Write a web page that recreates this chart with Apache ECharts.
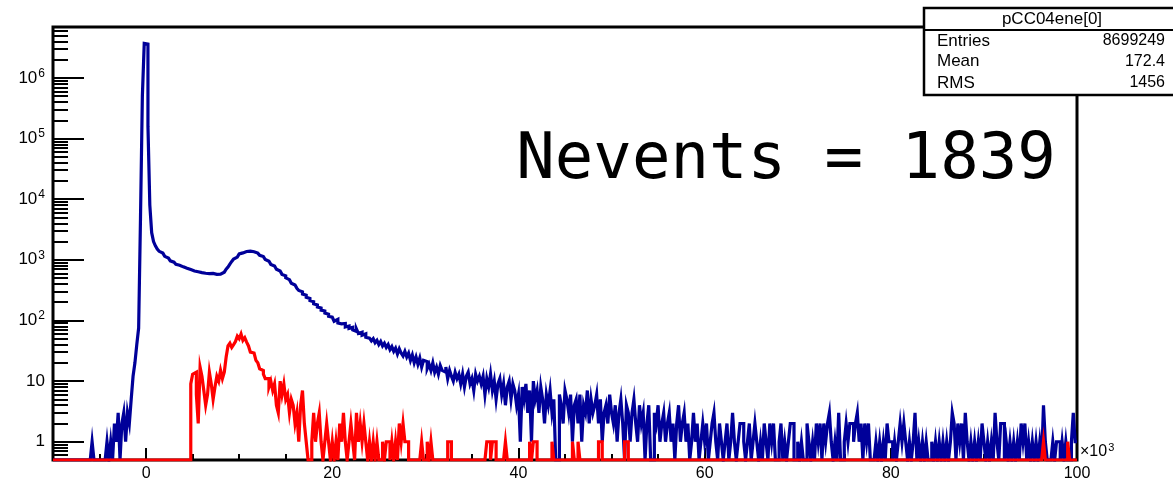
<!DOCTYPE html>
<html><head><meta charset="utf-8">
<script src="https://cdn.jsdelivr.net/npm/echarts@6/dist/echarts.min.js"></script>
<style>html,body{margin:0;padding:0;background:#fff}#c{width:1173px;height:483px}</style>
</head><body><div id="c"></div>
<script>
// Histogram binning (x in units of 10^3)
const binStart = -10;
const binWidth = 0.2;

// pCC04ene[0] – all entries (blue), 550 bins
const blueCounts = [
0,0,0,0,0,0,0,0,0,0,
0,0,0,0,0,0,0,0,0,0,
0,1,0,0,0,0,0,0,0,1,
0,1,0,2,1,3,0,2,3,1,
3,2,5,12,20,40,75,5000,500000,3700000,
3600000,160000,8000,2800,2000,1700,1500,1380,1290,1210,
1140,1070,1020,960,915,880,845,815,790,765,
740,725,700,690,665,655,640,635,620,615,
610,600,605,590,585,595,580,575,590,580,
600,625,650,700,760,850,940,1030,1110,1190,
1250,1300,1345,1370,1390,1385,1380,1360,1335,1290,
1240,1185,1130,1065,1010,950,895,840,790,745,
700,655,620,575,545,505,470,445,410,385,
360,338,312,296,272,260,240,230,212,203,
188,180,166,160,148,143,132,127,117,113,
106,97,104,91,88,84,89,78,81,74,
77,70,66,72,61,64,57,60,53,51,
54,46,50,43,47,40,45,38,42,36,
40,33,37,31,35,28,34,29,26,31,
25,29,22,27,20,25,19,24,17,22,
21,16,19,15,20,14,17,13,18,15,
14,17,11,15,12,10,14,11,13,9,
13,8,12,14,9,11,7,13,10,12,
9,12,6,11,8,13,7,10,5,9,
11,6,9,4,8,10,5,9,7,4,
6,1,8,5,9,3,7,1,10,5,
7,3,8,5,2,6,4,7,3,5,
0,0,6,4,2,7,5,3,6,1,
4,5,2,6,1,4,3,7,2,5,
3,4,6,2,5,1,3,4,2,6,
3,2,4,1,3,5,2,0,4,3,
1,3,5,2,1,4,2,3,0,2,
4,0,0,3,2,4,1,2,3,1,
2,3,1,2,0,2,4,1,2,3,
1,2,0,1,3,1,2,0,1,2,
1,2,0,1,2,3,1,0,2,1,
0,1,2,0,1,3,1,0,1,2,
2,1,0,1,2,0,1,2,1,0,
1,0,2,1,0,2,1,2,0,0,
1,2,0,1,0,1,2,2,0,0,
1,0,1,0,0,2,1,0,1,0,
2,1,2,0,2,1,2,3,1,0,
1,0,3,0,0,1,2,1,2,2,
1,2,3,1,2,0,2,1,2,0,
0,0,1,0,1,0,1,0,2,1,
1,0,1,0,1,2,1,2,1,0,
1,0,1,3,0,1,0,1,0,1,
0,0,1,0,1,0,1,0,1,0,
1,0,1,3,2,0,2,1,2,0,
3,1,0,1,0,1,0,1,0,2,
1,0,1,0,1,0,3,1,0,2,
2,0,1,0,1,0,1,0,1,0,
2,1,2,0,1,0,1,0,1,0,
1,0,4,1,0,0,0,1,0,1,
1,0,1,0,1,0,0,1,3,1
];

// Selected events (red), 550 bins
const redCounts = [
0,0,0,0,0,0,0,0,0,0,
0,0,0,0,0,0,0,0,0,0,
0,0,0,0,0,0,0,0,0,0,
0,0,0,0,0,0,0,0,0,0,
0,0,0,0,0,0,0,0,0,0,
0,0,0,0,0,0,0,0,0,0,
0,0,0,0,0,0,0,0,0,0,
0,0,0,0,9,13,14,6,2,17,
12,7,4,6,14,9,5,8,12,10,
15,11,14,25,38,42,36,40,45,55,
50,60,47,52,44,38,30,29,27,22,
20,16,15,13,11,11,8,10,7,9,
4,3,10,6,9,5,6,3,5,4,
2,3,1,4,7,2,1,0,0,1,
3,1,2,3,1,0,1,2,1,0,
1,0,1,0,2,1,3,1,0,1,
2,1,0,3,1,2,1,2,1,0,
1,0,1,0,1,0,0,1,0,1,
1,0,1,0,1,0,2,1,2,1,
1,0,0,0,0,0,0,0,1,0,
0,1,0,1,0,0,0,0,0,0,
0,0,1,1,0,0,0,0,0,0,
0,0,0,0,0,0,0,0,0,0,
0,0,0,1,1,0,1,1,0,0,
0,0,0,1,0,0,0,0,0,0,
0,0,0,0,0,0,1,0,1,1,
0,0,0,0,0,0,0,0,1,0,
0,0,0,0,0,0,0,0,0,1,
0,0,1,0,0,0,0,0,0,0,
0,0,0,1,1,0,0,0,0,0,
0,0,0,0,0,0,0,1,1,0,
0,0,0,0,0,0,0,0,0,0,
0,0,0,0,0,0,0,0,0,0,
0,0,0,0,0,0,0,0,0,0,
0,0,0,0,0,0,0,0,0,0,
0,0,0,0,0,0,0,0,0,0,
0,0,0,0,0,0,0,0,0,0,
0,0,0,0,0,0,0,0,0,0,
0,0,0,0,0,0,0,0,0,0,
0,0,0,0,0,0,0,0,0,0,
0,0,0,0,0,0,0,0,0,0,
0,0,0,0,0,0,0,0,0,0,
0,0,0,0,0,0,0,0,0,0,
0,0,0,0,0,0,0,0,0,0,
0,0,0,0,0,0,0,0,0,0,
0,0,0,0,0,0,0,0,0,0,
0,0,0,0,0,0,0,0,0,0,
0,0,0,0,0,0,0,0,0,0,
0,0,0,0,0,0,0,0,0,0,
0,0,0,0,0,0,0,0,0,0,
0,0,0,0,0,0,0,0,0,0,
0,0,0,0,0,0,0,0,0,0,
0,0,0,0,0,0,0,0,0,0,
0,0,1,0,0,0,0,0,0,0,
0,0,0,0,0,1,0,0,0,0
];

const xMin = -10, xMax = 100;
const yMin = 0.5, yMax = 6.9e6;
const xTickLabels = [0, 20, 40, 60, 80, 100];
const xMinorTicks = [-5, 5, 10, 15, 25, 30, 35, 45, 50, 55, 65, 70, 75, 85, 90, 95];
const yDecades = [1, 10, 100, 1000, 10000, 100000, 1000000];
const yMinorMultipliers = [2, 3, 4, 5, 6, 7, 8, 9];
const statsTitle = 'pCC04ene[0]';
const statsNames = ['Entries', 'Mean', 'RMS'];
const statsValues = ['8699249', '172.4', '1456'];
const annotation = 'Nevents = 1839';

// minor log ticks (2..9 in every decade within range)
const yMinorTicks = [];
[0.1].concat(yDecades).forEach(d => yMinorMultipliers.forEach(m => {
  const v = d * m; if (v > yMin && v < yMax) yMinorTicks.push(v);
}));

// histogram outline: each bin contributes its left and right edge at its height
// (empty bins are drawn on the lower frame, like ROOT does on a log scale)
function toOutline(counts) {
  const pts = [];
  counts.forEach((c, i) => {
    const v = c > 0 ? c : yMin;
    pts.push([binStart + i * binWidth, v]);
    pts.push([binStart + (i + 1) * binWidth, v]);
  });
  return pts;
}

const FONT = 'Liberation Sans, Arial, Helvetica, sans-serif';
const noLine = { show: false, onZero: false };
const chart = echarts.init(document.getElementById('c'));
chart.setOption({
  animation: false,
  backgroundColor: '#fff',
  grid: { left: 53, right: 96, top: 27, bottom: 23, show: true, borderColor: '#000', borderWidth: 3, backgroundColor: 'transparent' },
  xAxis: [
    { type: 'value', min: xMin, max: xMax, position: 'bottom',
      axisLine: noLine, splitLine: { show: false },
      axisTick: { show: true, inside: true, length: 12, customValues: xTickLabels, lineStyle: { color: '#000', width: 2 } },
      axisLabel: { customValues: xTickLabels, color: '#000', fontSize: 16, fontFamily: FONT, margin: 6 } },
    { type: 'value', min: xMin, max: xMax, position: 'bottom',
      axisLine: noLine, splitLine: { show: false },
      axisTick: { show: true, inside: true, length: 6, customValues: xMinorTicks, lineStyle: { color: '#000', width: 2 } },
      axisLabel: { show: false } }
  ],
  yAxis: [
    { type: 'log', logBase: 10, min: yMin, max: yMax, position: 'left',
      axisLine: noLine, splitLine: { show: false },
      axisTick: { show: true, inside: true, length: 31, customValues: yDecades, lineStyle: { color: '#000', width: 2 } },
      axisLabel: { customValues: yDecades, margin: 8, color: '#000', fontFamily: FONT, fontSize: 17,
        formatter: v => { const e = Math.round(Math.log10(v)); return e === 0 ? '1' : e === 1 ? '10' : '{b|10}{s|' + e + '}'; },
        rich: { b: { fontSize: 17, fontFamily: FONT, color: '#000' },
                s: { fontSize: 12, fontFamily: FONT, color: '#000', verticalAlign: 'top', padding: [0, 0, 9, 1] } } } },
    { type: 'log', logBase: 10, min: yMin, max: yMax, position: 'left',
      axisLine: noLine, splitLine: { show: false },
      axisTick: { show: true, inside: true, length: 15, customValues: yMinorTicks, lineStyle: { color: '#000', width: 2 } },
      axisLabel: { show: false } }
  ],
  series: [
    { type: 'line', data: toOutline(blueCounts), showSymbol: false, xAxisIndex: 0, yAxisIndex: 0,
      lineStyle: { color: '#000099', width: 3.2, join: 'miter' }, itemStyle: { color: '#000099' }, z: 3 },
    { type: 'line', data: toOutline(redCounts), showSymbol: false, xAxisIndex: 0, yAxisIndex: 0,
      lineStyle: { color: '#ff0000', width: 3.2, join: 'miter' }, itemStyle: { color: '#ff0000' }, z: 4 }
  ],
  graphic: [
    { type: 'rect', z: 100, shape: { x: 924, y: 8, width: 260, height: 87 }, style: { fill: '#fff', stroke: '#000', lineWidth: 2.5 } },
    { type: 'line', z: 101, shape: { x1: 924, y1: 30, x2: 1180, y2: 30 }, style: { stroke: '#000', lineWidth: 2 } },
    { type: 'text', z: 102, style: { text: statsTitle, x: 1052, y: 19, fill: '#000', font: '17px ' + FONT, textAlign: 'center', textVerticalAlign: 'middle' } },
    { type: 'text', z: 102, style: { text: statsNames[0], x: 937, y: 41, fill: '#000', font: '17px ' + FONT, textAlign: 'left', textVerticalAlign: 'middle' } },
    { type: 'text', z: 102, style: { text: statsNames[1], x: 937, y: 61, fill: '#000', font: '17px ' + FONT, textAlign: 'left', textVerticalAlign: 'middle' } },
    { type: 'text', z: 102, style: { text: statsNames[2], x: 937, y: 83, fill: '#000', font: '17px ' + FONT, textAlign: 'left', textVerticalAlign: 'middle' } },
    { type: 'text', z: 102, style: { text: statsValues[0], x: 1165, y: 41, fill: '#000', font: '16px ' + FONT, textAlign: 'right', textVerticalAlign: 'middle' } },
    { type: 'text', z: 102, style: { text: statsValues[1], x: 1165, y: 62, fill: '#000', font: '16px ' + FONT, textAlign: 'right', textVerticalAlign: 'middle' } },
    { type: 'text', z: 102, style: { text: statsValues[2], x: 1165, y: 83, fill: '#000', font: '16px ' + FONT, textAlign: 'right', textVerticalAlign: 'middle' } },
    { type: 'text', z: 50, style: { text: annotation, x: 786, y: 161, fill: '#000', font: '64px DejaVu Sans Mono, monospace', textAlign: 'center', textVerticalAlign: 'middle' } },
    { type: 'text', z: 50, style: { text: '{a|×10}{b|3}', x: 1080, y: 452, textAlign: 'left', textVerticalAlign: 'middle',
        rich: { a: { fontSize: 16, fontFamily: FONT, fill: '#000', color: '#000' },
                b: { fontSize: 11, fontFamily: FONT, fill: '#000', color: '#000', verticalAlign: 'top', padding: [0, 0, 8, 1] } } } }
  ]
});
</script>
</body></html>
